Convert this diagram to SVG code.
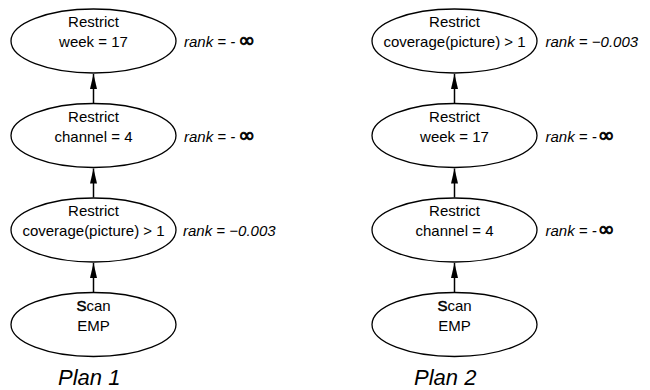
<svg xmlns="http://www.w3.org/2000/svg" width="650" height="390" viewBox="0 0 650 390">
<defs>
<style>
.n ellipse{fill:#fff;stroke:#000;stroke-width:1.3}
.t{font-family:"Liberation Sans",Arial,sans-serif;font-size:15px;fill:#000;text-anchor:middle}
.r{font-family:"Liberation Sans",Arial,sans-serif;font-size:15px;font-style:italic;fill:#000}
.inf{font-family:"DejaVu Sans",sans-serif;font-style:normal;font-size:20px;stroke:#000;stroke-width:0.8}
.p{font-family:"Liberation Sans",Arial,sans-serif;font-size:22px;font-style:italic;fill:#000}
.c line{stroke:#000;stroke-width:1.5}
.S{stroke:#000;stroke-width:0.5}
</style>
<marker id="ah" markerUnits="userSpaceOnUse" markerWidth="16" markerHeight="8" refX="15" refY="4" orient="auto">
<path d="M0,0.5 L15,4 L0,7.5 z" fill="#000"/>
</marker>
</defs>
<rect width="650" height="390" fill="#fff"/>

<g id="connectors" class="c">
<line x1="93.5" y1="103" x2="93.5" y2="74" marker-end="url(#ah)"/>
<line x1="93.5" y1="197.5" x2="93.5" y2="168.5" marker-end="url(#ah)"/>
<line x1="93.5" y1="292" x2="93.5" y2="263" marker-end="url(#ah)"/>
<line x1="454.5" y1="103" x2="454.5" y2="74" marker-end="url(#ah)"/>
<line x1="454.5" y1="197.5" x2="454.5" y2="168.5" marker-end="url(#ah)"/>
<line x1="454.5" y1="292" x2="454.5" y2="263" marker-end="url(#ah)"/>
</g>

<g id="p1-week" class="n">
<ellipse cx="93.5" cy="41" rx="82.5" ry="32"/>
<text class="t" x="93.5" y="27">Restrict</text>
<text class="t" x="93.5" y="47">week = 17</text>
</g>
<g id="p1-channel" class="n">
<ellipse cx="93.5" cy="135.5" rx="82.5" ry="32"/>
<text class="t" x="93.5" y="121.5">Restrict</text>
<text class="t" x="93.5" y="141.5">channel = 4</text>
</g>
<g id="p1-coverage" class="n">
<ellipse cx="93.5" cy="230" rx="82.5" ry="32"/>
<text class="t" x="93.5" y="216">Restrict</text>
<text class="t" x="93.5" y="236">coverage(picture) &gt; 1</text>
</g>
<g id="p1-scan" class="n">
<ellipse cx="93.5" cy="324.5" rx="82.5" ry="32"/>
<text class="t" x="93.5" y="310.5"><tspan class="S">S</tspan>can</text>
<text class="t" x="93.5" y="330.5">EMP</text>
</g>

<g id="p2-coverage" class="n">
<ellipse cx="454.5" cy="41" rx="82.5" ry="32"/>
<text class="t" x="454.5" y="27">Restrict</text>
<text class="t" x="454.5" y="47">coverage(picture) &gt; 1</text>
</g>
<g id="p2-week" class="n">
<ellipse cx="454.5" cy="135.5" rx="82.5" ry="32"/>
<text class="t" x="454.5" y="121.5">Restrict</text>
<text class="t" x="454.5" y="141.5">week = 17</text>
</g>
<g id="p2-channel" class="n">
<ellipse cx="454.5" cy="230" rx="82.5" ry="32"/>
<text class="t" x="454.5" y="216">Restrict</text>
<text class="t" x="454.5" y="236">channel = 4</text>
</g>
<g id="p2-scan" class="n">
<ellipse cx="454.5" cy="324.5" rx="82.5" ry="32"/>
<text class="t" x="454.5" y="310.5"><tspan class="S">S</tspan>can</text>
<text class="t" x="454.5" y="330.5">EMP</text>
</g>

<g id="ranks">
<text class="r" x="184" y="47">rank = -<tspan class="inf" dx="3">∞</tspan></text>
<text class="r" x="184" y="141.5">rank = -<tspan class="inf" dx="3">∞</tspan></text>
<text class="r" x="183" y="236">rank = −0.003</text>
<text class="r" x="545.5" y="47">rank = −0.003</text>
<text class="r" x="545.5" y="141.5">rank = -<tspan class="inf" dx="1">∞</tspan></text>
<text class="r" x="545.5" y="236">rank = -<tspan class="inf" dx="1">∞</tspan></text>
</g>

<g id="titles">
<text class="p" x="58" y="385">Plan 1</text>
<text class="p" x="414" y="385">Plan 2</text>
</g>
</svg>
